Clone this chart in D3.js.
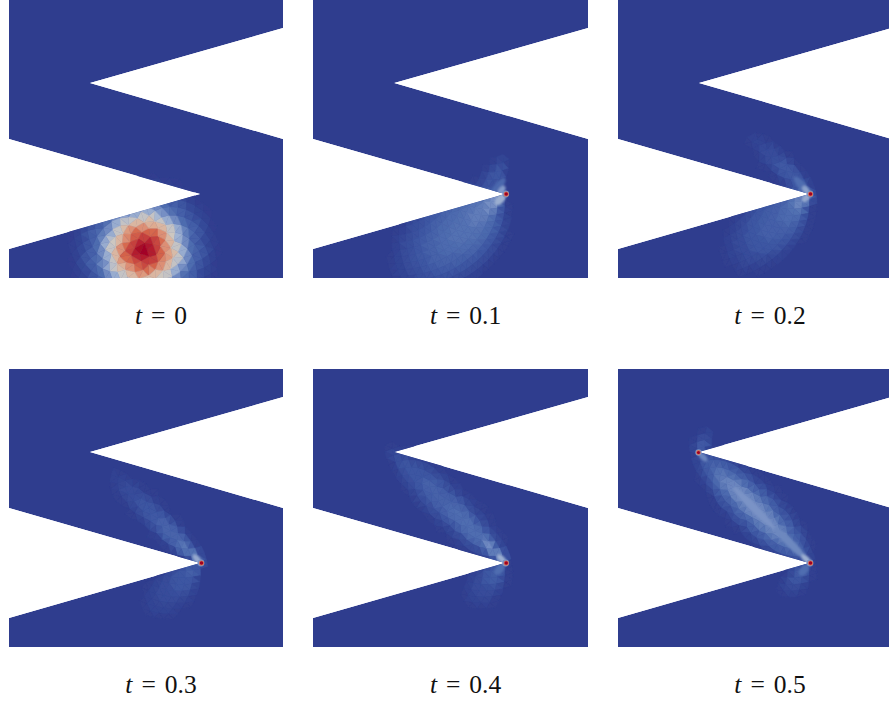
<!DOCTYPE html>
<html><head><meta charset="utf-8">
<script src="https://cdn.jsdelivr.net/npm/d3@7"></script>
<style>html,body{margin:0;padding:0;background:#fff;overflow:hidden}svg{display:block}
text{font-family:"Liberation Serif",serif;fill:#111}</style></head><body>
<svg id="c" width="889" height="702"></svg>
<script>
// Panel labels and origin
const timeLabels = ["0","0.1","0.2","0.3","0.4","0.5"];
const panelLefts = [9,313,618,9,313,618];
const panelWidths = [274,275,274,274,275,274];
const panelTops = [0,0,0,369,369,369];
// Domain outline (panel units)
const outlineX = [0,274,274,81,274,274,0,0,191,0];
const outlineY = [0,0,28,83,139,278,278,249,194,139];
// Colour stops
const colourValues = [0,0.1,0.2,0.3,0.4,0.5,0.6,0.7,0.85,1];
const colourHexes = ["#2f3d8e","#3d56a2","#4f6db0","#7a93c6","#a5b6d3","#d2c9bd","#dfa88c","#d6674c","#bb2a33","#a00024"];
// Field levels: cx, cy, rx, ry, angle, value
const bands0 = [
 [135,250,72,72,0,.02],[135,250,66,66,0,.05],[135,250,61,61,0,.09],[135,250,56,56,0,.14],[135,250,51,51,0,.19],
 [135,250,46,46,0,.27],[135,250,41,41,0,.37],[135,250,36,36,0,.47],[135,250,31,31,0,.56],[135,250,26,26,0,.64],
 [135,250,21,21,0,.71],[135,250,16,16,0,.79],[135,250,11,11,0,.89],[135,250,6,6,0,1]];
const bands1 = [
 [137,238,66,46,-42,.03],[140,236,58,40,-42,.07],[144,233,50,33,-42,.11],[148,230,44,27,-44,.15],[153,226,37,21,-45,.19],
 [161,219,33,14,-47,.21],[172,209,24,9,-48,.24],[181,202,13,6,-50,.3],[186.5,199.4,7,4,-50,.38],
 [177,177,24,8,-52,.05],[180,180,17,6,-52,.1],[185,186,10,4,-52,.18],[188,190,5,3,-50,.32]];
const bands2 = [
 [150,228,50,32,-45,.03],[153,226,43,27,-45,.06],[157,222,37,23,-47,.1],[165,216,31,17,-48,.14],[176,207,21,11,-50,.19],[184,201,11,6,-50,.26],[188,198,5,3,-50,.36],
 [163,165,42,11,45,.03],[167,169,34,9,46,.06],[175,177,25,7,48,.11],[184,186,12,4,50,.2],[188,190,5,3,50,.34]];
const bands3 = [
 [147,149,62,13,45,.03],[151,153,53,11,45,.06],[158,160,42,9,46,.1],[168,171,29,7,47,.16],[181,184,14,5,47,.24],[188,190,6,3,47,.36],
 [163,222,30,19,-40,.03],[168,216,24,14,-42,.06],[175,210,17,10,-45,.1],[184,201,9,5,-48,.17]];
const bands4 = [
 [136,138,82,21,45,.03],[137,140,73,17,45,.06],[139,141,65,13,45,.1],[145,147,53,10,45,.15],[158,160,37,7,45,.2],[180,182,14,5,45,.28],[188,190,6,3,45,.38],
 [172,215,26,17,-50,.03],[175,212,20,12,-50,.06],[180,207,13,8,-50,.12],[186,200,7,4,-50,.2],
 [88,92,11,5,45,.1]];
const bands5 = [
 [136,139,80,26,45,.03],[136,139,74,22,45,.08],[136,139,68,18,45,.13],[136,139,61,14,45,.18],[136,139,53,11,45,.23],[136,139,44,8,45,.27],[136,139,30,4,45,.3],[172,174,22,4,45,.27],[188,190,6,3,45,.38],
 [178,211,18,11,-50,.04],[181,207,12,7,-50,.11],[186,201,7,4,-50,.2],
 [85,72,13,7,-65,.05],[84,75,8,5,-65,.13],[85,88,6,3,45,.26]];
const fieldBands = [bands0,bands1,bands2,bands3,bands4,bands5];
// Hot spots at the re-entrant corners: cx, cy, radius, value
const spots0 = [];
const spotsMain = [[192,194,3.4,.3],[192.5,194,2.6,.68],[192.5,194,1.8,1]];
const spots5 = [[80.5,83.5,3.2,.3],[80.5,83.5,2.4,.68],[80.5,83.5,1.6,1]];
const spotsPerPanel = [spots0,spotsMain,spotsMain,spotsMain,spotsMain,spotsMain.concat(spots5)];
// Mesh density: spiral step, node count, centre
const meshStep = [4.6,4,4,4,4,4];
const meshCount = [400,3200,3200,3200,3200,3200];
const meshCentreX = [135,137,137,137,137,137];
const meshCentreY = [250,139,139,139,139,139];
const thinLimit = 5;

const panelH = 278, baseW = 274;
const colour = d3.scaleLinear().domain(colourValues).range(colourHexes).clamp(true);
const svg = d3.select("#c");
const defs = svg.append("defs");
const outline = d3.zip(outlineX,outlineY);
defs.append("filter").attr("id","soft").append("feGaussianBlur").attr("stdDeviation",0.6);
defs.append("filter").attr("id","softer").attr("x","-30%").attr("y","-30%").attr("width","160%").attr("height","160%").append("feGaussianBlur").attr("stdDeviation",1.3);
defs.append("filter").attr("id","spot").attr("x","-50%").attr("y","-50%").attr("width","200%").attr("height","200%").append("feGaussianBlur").attr("stdDeviation",0.45);

function inBand(px,py,d){
  const a=d[4]*Math.PI/180, dx=px-d[0], dy=py-d[1];
  const u=(dx*Math.cos(a)+dy*Math.sin(a))/d[2], v=(-dx*Math.sin(a)+dy*Math.cos(a))/d[3];
  return u*u+v*v<=1;
}
function levelAt(px,py,bands){
  return d3.max(bands,d=>inBand(px,py,d)?d[5]:0)||0;
}

timeLabels.forEach((lab,i)=>{
  const x = d3.scaleLinear().domain([0,baseW]).range([panelLefts[i],panelLefts[i]+panelWidths[i]]);
  const y = d3.scaleLinear().domain([0,panelH]).range([panelTops[i],panelTops[i]+panelH]);
  const path = d3.line().x(d=>x(d[0])).y(d=>y(d[1])).curve(d3.curveLinearClosed);
  defs.append("clipPath").attr("id","cp"+i).append("path").attr("d",path(outline));
  const g = svg.append("g").attr("clip-path",`url(#cp${i})`);
  g.append("path").attr("d",path(outline)).attr("fill",colour(0));

  // flat-shaded triangular mesh on a sunflower layout of nodes
  const nodes = d3.range(meshCount[i]).map(k=>{
    const r=meshStep[i]*Math.sqrt(k+0.5), th=k*2.39996;
    return [meshCentreX[i]+r*Math.cos(th), meshCentreY[i]+r*Math.sin(th)];
  });
  const del = d3.Delaunay.from(nodes);
  const meshBands=fieldBands[i].filter(b=>b[3]>=thinLimit);
  const tris = [];
  for(let k=0;k<del.triangles.length;k+=3){
    const p=[nodes[del.triangles[k]],nodes[del.triangles[k+1]],nodes[del.triangles[k+2]]];
    const cx=d3.mean(p,q=>q[0]), cy=d3.mean(p,q=>q[1]);
    const val=(levelAt(cx,cy,meshBands)*2+d3.sum(p,q=>levelAt(q[0],q[1],meshBands)))/5;
    if(val>0) tris.push({p,val});
  }
  g.append("g").attr("filter","url(#soft)").selectAll("path").data(tris).join("path")
    .attr("d",d=>path(d.p)).attr("fill",d=>colour(d.val)).attr("stroke",d=>colour(d.val)).attr("stroke-width",0.5);

  const thin = fieldBands[i].filter(b=>b[3]<thinLimit).sort((a,b)=>d3.ascending(a[5],b[5]));
  g.append("g").attr("filter","url(#softer)").selectAll("path").data(thin).join("path")
    .attr("fill",d=>colour(d[5]))
    .attr("d",d=>{
      const a=d[4]*Math.PI/180;
      const pts=d3.range(18).map(k=>{
        const th=2*Math.PI*k/18;
        const u=d[2]*Math.cos(th), v=d[3]*Math.sin(th);
        return [d[0]+u*Math.cos(a)-v*Math.sin(a), d[1]+u*Math.sin(a)+v*Math.cos(a)];
      });
      return path(pts);
    });
  g.append("g").attr("filter","url(#spot)").selectAll("circle").data(spotsPerPanel[i]).join("circle")
    .attr("cx",d=>x(d[0])).attr("cy",d=>y(d[1])).attr("r",d=>d[2]).attr("fill",d=>colour(d[3]));
  // label
  const t = svg.append("text").attr("x",x(152)).attr("y",y(323.5)).attr("text-anchor","middle").attr("font-size",25.5);
  t.append("tspan").attr("font-style","italic").text("t");
  t.append("tspan").attr("dx",9).text("=");
  t.append("tspan").attr("dx",9).text(lab);
});
</script></body></html>
